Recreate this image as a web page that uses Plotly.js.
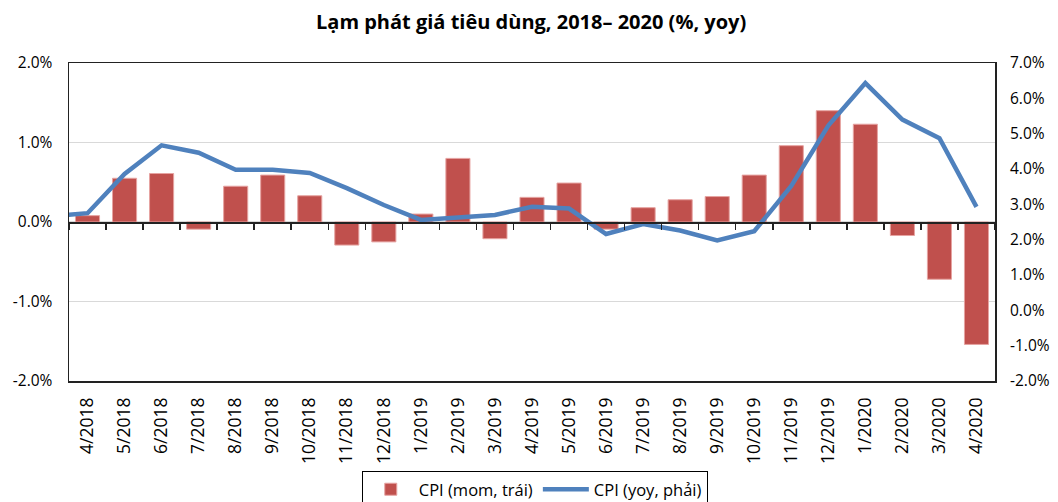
<!DOCTYPE html>
<html>
<head>
<meta charset="utf-8">
<script src="https://cdn.plot.ly/plotly-3.0.1.min.js"></script>
<style>html,body{margin:0;padding:0;background:#fff;}#chart{width:1058px;height:502px;}</style>
</head>
<body>
<div id="chart"></div>
<script>
const months = ["4/2018","5/2018","6/2018","7/2018","8/2018","9/2018","10/2018","11/2018","12/2018",
  "1/2019","2/2019","3/2019","4/2019","5/2019","6/2019","7/2019","8/2019","9/2019","10/2019","11/2019","12/2019",
  "1/2020","2/2020","3/2020","4/2020"];
const cpiMom = [0.08,0.55,0.61,-0.09,0.45,0.59,0.33,-0.29,-0.25,
  0.10,0.80,-0.21,0.31,0.49,-0.09,0.18,0.28,0.32,0.59,0.96,1.40,
  1.23,-0.17,-0.72,-1.54];
const cpiYoy = [2.75,3.86,4.67,4.46,3.98,3.98,3.89,3.46,2.98,
  2.56,2.64,2.70,2.93,2.88,2.16,2.44,2.26,1.98,2.24,3.52,5.23,
  6.43,5.40,4.87,2.93];
const cpiYoyPrev = 2.66; // 3/2018, only its segment into the plot is visible
const leftTickVals = [-2,-1,0,1,2];
const leftTickText = ["-2.0%","-1.0%","0.0%","1.0%","2.0%"];
const rightTickVals = [-2,-1,0,1,2,3,4,5,6,7];
const rightTickText = ["-2.0%","-1.0%","0.0%","1.0%","2.0%","3.0%","4.0%","5.0%","6.0%","7.0%"];

const idx = months.map((m,i)=>i);
const boundaries = months.map((m,i)=>i-0.5).concat([months.length-0.5]);
const lineX = [-1].concat(idx);
const lineY = [cpiYoyPrev].concat(cpiYoy);
const xr = [-0.5, months.length-0.5];
const FONT = "'Open Sans', Lato, sans-serif";

const traces = [
  {type:'bar', x: idx, y: cpiMom, name:'CPI (mom, trái)', xaxis:'x', yaxis:'y',
   marker:{color:'#C0504D', line:{color:'#E6A3A1', width:1}}, hoverinfo:'skip'},
  {type:'scatter', mode:'lines', x: lineX, y: lineY, name:'CPI (yoy, phải)', xaxis:'x', yaxis:'y2',
   line:{color:'#4F81BD', width:4.5}, hoverinfo:'skip'},
  {type:'scatter', mode:'none', x: idx, y: cpiMom, xaxis:'x2', yaxis:'y', showlegend:false, hoverinfo:'skip'}
];

const layout = {
  width:1058, height:502,
  margin:{l:69, r:63, t:63, b:121, autoexpand:false},
  paper_bgcolor:'#fff', plot_bgcolor:'#fff',
  font:{family:FONT, size:15, color:'#000'},
  title:{text:'<b>Lạm phát giá tiêu dùng, 2018– 2020 (%, yoy)</b>', x:0.502, xanchor:'center',
         y:1-22/502, yanchor:'middle', font:{family:FONT, size:20, color:'#000'}},
  bargap:0.35,
  showlegend:true,
  legend:{orientation:'h', x:0.503, xanchor:'center', y:-0.283, yanchor:'top',
          bordercolor:'#000', borderwidth:1, font:{size:16.5}, bgcolor:'#fff', itemwidth:46},
  xaxis:{range:xr, tickvals:idx, ticktext:months, tickangle:-90, ticks:'',
         showline:true, mirror:true, linecolor:'#222', linewidth:1.5,
         showgrid:false, zeroline:false, tickfont:{size:17.5}, automargin:false, ticklabelstandoff:8},
  xaxis2:{overlaying:'x', anchor:'free', position:0.5, range:xr, tickvals:boundaries,
          ticks:'outside', ticklen:6, tickwidth:1.5, tickcolor:'#222', showticklabels:false,
          showline:true, linecolor:'#222', linewidth:1.5, showgrid:false, zeroline:false},
  yaxis:{range:[-2,2], tickvals:leftTickVals, ticktext:leftTickText, ticks:'',
         showgrid:true, gridcolor:'#D9D9D9', gridwidth:1.2, zeroline:false,
         showline:true, mirror:true, linecolor:'#222', linewidth:1.5,
         ticklabelstandoff:12, automargin:false, tickfont:{size:15.5}},
  yaxis2:{overlaying:'y', side:'right', range:[-2,7], tickvals:rightTickVals, ticktext:rightTickText,
          ticks:'', showgrid:false, zeroline:false, showline:false,
          ticklabelstandoff:14, automargin:false, tickfont:{size:15.5}}
};

Plotly.newPlot('chart', traces, layout, {staticPlot:true, displayModeBar:false});
</script>
</body>
</html>
